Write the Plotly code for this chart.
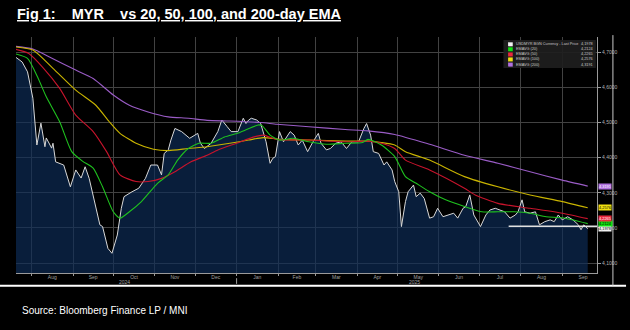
import plotly.graph_objects as go

# ---------------- data ----------------
price_dates = ["2024-07-19","2024-07-25","2024-07-29","2024-08-02","2024-08-05","2024-08-08","2024-08-11","2024-08-12",
"2024-08-16","2024-08-17","2024-08-19","2024-08-25","2024-08-30","2024-09-03","2024-09-07","2024-09-10","2024-09-13",
"2024-09-17","2024-09-21","2024-09-23","2024-09-27","2024-09-30","2024-10-04","2024-10-07","2024-10-09","2024-10-15",
"2024-10-20","2024-10-25","2024-10-29","2024-11-03","2024-11-06","2024-11-08","2024-11-11","2024-11-13","2024-11-16",
"2024-11-21","2024-11-27","2024-12-03","2024-12-05","2024-12-08","2024-12-10","2024-12-13","2024-12-18","2024-12-21",
"2024-12-25","2024-12-28","2025-01-02","2025-01-06","2025-01-08","2025-01-10","2025-01-12","2025-01-16","2025-01-19",
"2025-01-23","2025-01-26","2025-01-28","2025-01-30","2025-02-02","2025-02-05","2025-02-10","2025-02-13","2025-02-16",
"2025-02-19","2025-02-23","2025-02-27","2025-03-03","2025-03-05","2025-03-09","2025-03-12","2025-03-16","2025-03-20",
"2025-03-24","2025-03-28","2025-04-02","2025-04-06","2025-04-08","2025-04-11","2025-04-13","2025-04-17","2025-04-21",
"2025-04-23","2025-04-27","2025-04-29","2025-05-02","2025-05-04","2025-05-07","2025-05-09","2025-05-13","2025-05-15",
"2025-05-18","2025-05-21","2025-05-25","2025-05-28","2025-05-31","2025-06-04","2025-06-08","2025-06-12","2025-06-15",
"2025-06-19","2025-06-21","2025-06-24","2025-06-27","2025-07-02","2025-07-06","2025-07-09","2025-07-13","2025-07-16",
"2025-07-20","2025-07-24","2025-07-28","2025-07-30","2025-08-02","2025-08-04","2025-08-08","2025-08-12","2025-08-15",
"2025-08-19","2025-08-23","2025-08-26","2025-08-29","2025-09-01","2025-09-05","2025-09-09","2025-09-13","2025-09-15",
"2025-09-17","2025-09-20"]
price_vals = [4.689,4.672,4.644,4.569,4.436,4.498,4.431,4.456,
4.427,4.441,4.388,4.379,4.317,4.365,4.342,4.374,4.341,
4.275,4.209,4.204,4.142,4.128,4.180,4.256,4.289,4.303,
4.313,4.341,4.379,4.379,4.351,4.412,4.422,4.450,4.483,
4.474,4.455,4.469,4.441,4.426,4.431,4.441,4.474,4.507,
4.488,4.474,4.474,4.512,4.497,4.507,4.512,4.507,4.497,
4.445,4.384,4.398,4.403,4.474,4.445,4.474,4.464,4.436,
4.450,4.417,4.445,4.469,4.441,4.422,4.426,4.441,4.445,
4.426,4.445,4.445,4.483,4.497,4.464,4.417,4.412,4.379,
4.388,4.365,4.332,4.303,4.204,4.275,4.303,4.322,4.289,
4.299,4.284,4.228,4.232,4.256,4.232,4.237,4.242,4.228,
4.256,4.261,4.294,4.237,4.204,4.237,4.251,4.256,4.251,
4.246,4.228,4.237,4.246,4.280,4.246,4.242,4.246,4.209,
4.218,4.223,4.218,4.237,4.223,4.232,4.223,4.209,4.195,
4.209,4.1978]

ema20_dates = ["2024-07-19","2024-07-29","2024-08-06","2024-08-12","2024-08-22","2024-08-31","2024-09-08","2024-09-16",
"2024-09-23","2024-10-01","2024-10-06","2024-10-13","2024-10-22","2024-11-03","2024-11-11","2024-11-18","2024-11-26",
"2024-12-04","2024-12-13","2024-12-23","2025-01-03","2025-01-17","2025-01-20","2025-01-26","2025-02-02","2025-02-12",
"2025-02-24","2025-03-09","2025-03-23","2025-04-05","2025-04-09","2025-04-19","2025-04-29","2025-05-07","2025-05-15",
"2025-05-25","2025-06-06","2025-06-20","2025-07-03","2025-07-15","2025-07-27","2025-08-08","2025-08-20","2025-09-01",
"2025-09-20"]
ema20_vals = [4.696,4.682,4.625,4.573,4.502,4.417,4.390,4.370,
4.317,4.246,4.228,4.246,4.275,4.327,4.351,4.393,4.426,
4.441,4.441,4.459,4.471,4.493,4.491,4.464,4.450,4.455,
4.445,4.438,4.441,4.443,4.452,4.436,4.403,4.346,4.327,
4.303,4.280,4.261,4.246,4.246,4.246,4.242,4.232,4.229,
4.2124]

ema50_dates = ["2024-07-19","2024-07-30","2024-08-10","2024-08-22","2024-09-03","2024-09-16","2024-09-26","2024-10-06",
"2024-10-18","2024-10-27","2024-11-06","2024-11-16","2024-11-28","2024-12-10","2024-12-18","2025-01-01","2025-01-14",
"2025-01-21","2025-01-31","2025-02-24","2025-03-23","2025-04-09","2025-04-19","2025-04-29","2025-05-07","2025-05-25",
"2025-06-20","2025-06-28","2025-07-15","2025-08-08","2025-09-01","2025-09-20"]
ema50_vals = [4.709,4.696,4.654,4.597,4.521,4.474,4.417,4.351,
4.332,4.332,4.341,4.360,4.388,4.407,4.422,4.441,4.459,
4.464,4.452,4.450,4.445,4.447,4.441,4.426,4.393,4.365,
4.313,4.294,4.270,4.256,4.242,4.2265]

ema100_dates = ["2024-07-19","2024-08-02","2024-08-17","2024-09-03","2024-09-18","2024-09-28","2024-10-06","2024-10-18",
"2024-10-31","2024-11-11","2024-11-26","2024-12-10","2024-12-27","2025-01-10","2025-01-21","2025-02-02","2025-02-24",
"2025-03-23","2025-04-09","2025-04-19","2025-04-29","2025-05-07","2025-05-25","2025-06-20","2025-07-15","2025-08-08",
"2025-09-01","2025-09-20"]
ema100_vals = [4.715,4.706,4.654,4.592,4.549,4.502,4.469,4.441,
4.424,4.420,4.426,4.431,4.441,4.450,4.457,4.452,4.450,
4.447,4.447,4.443,4.436,4.417,4.393,4.346,4.317,4.294,
4.275,4.2576]

ema200_dates = ["2024-07-19","2024-08-02","2024-08-14","2024-09-03","2024-09-16","2024-10-01","2024-10-13","2024-10-27",
"2024-11-11","2024-11-26","2024-12-10","2024-12-27","2025-01-19","2025-01-31","2025-02-24","2025-03-23","2025-04-09",
"2025-04-29","2025-05-25","2025-06-20","2025-07-15","2025-08-08","2025-09-01","2025-09-20"]
ema200_vals = [4.717,4.709,4.687,4.649,4.625,4.578,4.549,4.530,
4.516,4.512,4.506,4.504,4.500,4.495,4.488,4.480,4.476,
4.466,4.438,4.407,4.384,4.360,4.336,4.3191]

support_level = 4.205
support_start = "2025-07-23"

y_ticks = [4.1, 4.2, 4.3, 4.4, 4.5, 4.6, 4.7]
x_range = ["2024-07-20 10:00", "2025-09-26 22:00"]
y_range = [4.072, 4.743]

series_names = ["USDMYR BGN Currency - Last Price", "EMAVG (20)", "EMAVG (50)", "EMAVG (100)", "EMAVG (200)"]
line_colors = ["#d8d8d8", "#1fc21f", "#c8142c", "#c9b400", "#9a5cc6"]
box_colors = ["#f2f2f2", "#10e010", "#e8283c", "#f0e010", "#b070e0"]
box_text_colors = ["#000000", "#000000", "#ffffff", "#000000", "#ffffff"]

title_text = "Fig 1:\u00a0\u00a0\u00a0\u00a0MYR\u00a0\u00a0\u00a0\u00a0vs 20, 50, 100, and 200-day EMA"
source_text = "Source: Bloomberg Finance LP / MNI"
year_labels = [("2024", "2024-10-09"), ("2025", "2025-05-14")]

# ---------------- figure ----------------
fig = go.Figure()

fig.add_trace(go.Scatter(x=price_dates, y=price_vals, mode="lines", fill="tozeroy",
                         fillcolor="rgba(14,46,90,0.66)", line=dict(color=line_colors[0], width=1),
                         showlegend=False, hoverinfo="skip"))
for d, v, c in [(ema200_dates, ema200_vals, line_colors[4]),
                (ema100_dates, ema100_vals, line_colors[3]),
                (ema50_dates, ema50_vals, line_colors[2]),
                (ema20_dates, ema20_vals, line_colors[1])]:
    fig.add_trace(go.Scatter(x=d, y=v, mode="lines", line=dict(color=c, width=1.1, shape="spline", smoothing=0.6),
                             showlegend=False, hoverinfo="skip"))

fig.update_layout(
    width=630, height=330,
    margin=dict(l=16, r=29, t=37, b=57),
    paper_bgcolor="#000000", plot_bgcolor="#000000",
    separators=",.",
    font=dict(family="Liberation Sans, Arial, sans-serif", color="#a0a0a0", size=6),
)
fig.update_xaxes(range=x_range, dtick="M1", tick0="2024-08-01", ticklabelmode="period", tickformat="%b",
                 showgrid=True, gridcolor="#424242", gridwidth=1,
                 ticks="outside", ticklen=2, ticklabelstandoff=-3, tickcolor="#9a9a9a",
                 tickfont=dict(size=5, color="#a0a0a0"),
                 showline=True, linecolor="#9a9a9a", linewidth=1, zeroline=False)
fig.update_yaxes(range=y_range, side="right", tickvals=y_ticks, tickformat=".4f",
                 showgrid=True, gridcolor="#424242", gridwidth=1,
                 ticks="outside", ticklen=3, tickcolor="#9a9a9a", tickfont=dict(size=5, color="#b0b0b0"),
                 showline=True, linecolor="#9a9a9a", linewidth=1, zeroline=False)

# support line
fig.add_shape(type="line", xref="x", yref="y", x0=support_start, x1=x_range[1],
              y0=support_level, y1=support_level, line=dict(color="#e0e0e0", width=1.5))

# year labels & year separator tick
for txt, xd in year_labels:
    fig.add_annotation(x=xd, y=-0.039, xref="x", yref="paper", text=txt, showarrow=False,
                       font=dict(size=5, color="#a0a0a0"), yanchor="middle")
fig.add_shape(type="line", xref="x", yref="paper", x0="2025-01-01", x1="2025-01-01", y0=-0.022, y1=-0.046,
              line=dict(color="#a0a0a0", width=1))

# last value boxes on the right
last_vals = [price_vals[-1], ema20_vals[-1], ema50_vals[-1], ema100_vals[-1], ema200_vals[-1]]
for v, bc, tc in zip(last_vals, box_colors, box_text_colors):
    fig.add_annotation(x=1, y=v, xref="paper", yref="y", xanchor="left", yanchor="middle", xshift=1,
                       text=f"{v:.4f}".replace(".", ","), showarrow=False, bgcolor=bc,
                       font=dict(size=3.9, color=tc), borderpad=0)

# custom legend
fig.add_shape(type="rect", xref="paper", yref="paper", x0=0.839, x1=0.998, y0=0.869, y1=0.987,
              fillcolor="rgba(30,30,30,0.92)", line=dict(width=0))
row_y = [0.969, 0.948, 0.926, 0.905, 0.883]
for ry, name, v, bc in zip(row_y, series_names, last_vals, box_colors):
    fig.add_shape(type="rect", xref="paper", yref="paper", x0=0.847, x1=0.855, y0=ry - 0.0085, y1=ry + 0.0085,
                  fillcolor=bc, line=dict(width=0))
    fig.add_annotation(x=0.857, y=ry, xref="paper", yref="paper", xanchor="left", yanchor="middle",
                       text=name, showarrow=False, font=dict(size=3.8, color="#c8c8c8"))
    fig.add_annotation(x=0.9966, y=ry, xref="paper", yref="paper", xanchor="right", yanchor="middle",
                       text=f"{v:.4f}".replace(".", ","), showarrow=False, font=dict(size=3.8, color="#c8c8c8"))

# frame lines
fig.add_shape(type="line", xref="paper", yref="paper", x0=-0.03, x1=1.05, y0=-0.054, y1=-0.054,
              line=dict(color="#ffffff", width=2))
fig.add_shape(type="line", xref="paper", yref="paper", x0=1.0274, x1=1.0274, y0=1.008, y1=-0.054,
              line=dict(color="#c8c8c8", width=1))

# title and source
fig.add_annotation(x=-0.002, y=1.097, xref="paper", yref="paper", xanchor="left", yanchor="middle",
                   text="<b><u>" + title_text + "</u></b>", showarrow=False,
                   font=dict(family="Liberation Sans, Arial, sans-serif", size=14.5, color="#ffffff"))
fig.add_annotation(x=0.0068, y=-0.157, xref="paper", yref="paper", xanchor="left", yanchor="middle",
                   text=source_text, showarrow=False,
                   font=dict(family="Liberation Sans, Arial, sans-serif", size=10, color="#ffffff"))

fig.write_html("out.html")
